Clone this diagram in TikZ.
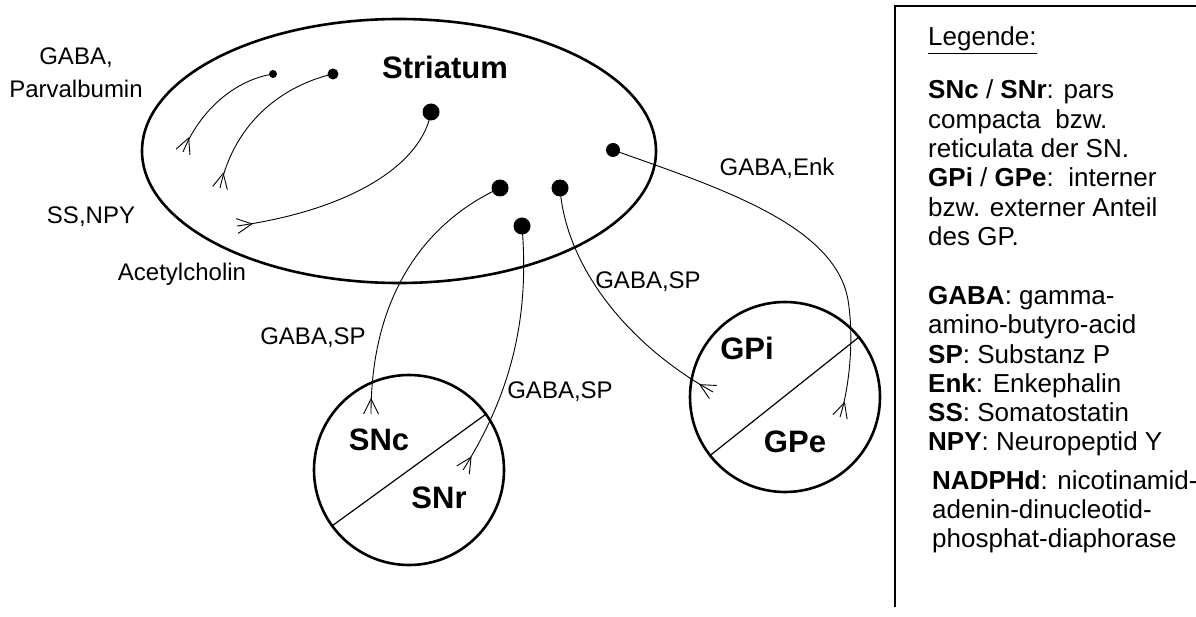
\documentclass[tikz,border=0pt]{standalone}
\usepackage{fontspec}
\setmainfont{Liberation Sans}
\usetikzlibrary{arrows.meta,shapes.geometric}
\pgfdeclarearrow{
  name = Fork,
  setup code = {
    \pgfarrowssettipend{0pt}
    \pgfarrowssetlineend{0pt}
    \pgfarrowssetbackend{-15pt}
    \pgfarrowssetvisualbackend{-15pt}
  },
  drawing code = {
    \pgfsetdash{}{0pt}
    \pgfsetmiterjoin
    \pgfpathmoveto{\pgfqpoint{0pt}{7.5pt}}
    \pgfpathlineto{\pgfqpoint{-15pt}{0pt}}
    \pgfpathlineto{\pgfqpoint{0pt}{-7.5pt}}
    \pgfusepathqstroke
  }
}
\newcommand\labfont{\fontsize{24}{28}\selectfont}
\newcommand\regfont{\fontsize{31}{36}\selectfont\bfseries}
\newcommand\legfont{\fontsize{26}{30}\selectfont}
\begin{document}
\begin{tikzpicture}[x=1pt,y=-1pt,
  outline/.style={draw, line width=2.6pt, inner sep=0pt},
  divider/.style={line width=1.2pt},
  dot/.style={circle, fill=black, inner sep=0pt},
  conn/.style={line width=0.9pt, -Fork},
  lab/.style={inner sep=0pt, font=\labfont},
  reg/.style={inner sep=0pt, font=\regfont},
  leg/.style={inner sep=0pt, anchor=base west, font=\legfont}]
\useasboundingbox (0,0) rectangle (1196,617);
\fill[white] (0,0) rectangle (1196,617);

% regions
\node[outline, ellipse, minimum width=514pt, minimum height=264pt] (str) at (399,151) {};
\node[outline, circle, minimum size=190pt] (sn) at (409,470) {};
\node[outline, circle, minimum size=190pt] (gp) at (785,397) {};
\draw[divider] (sn.216) -- (sn.36);
\draw[divider] (gp.218) -- (gp.39);

\node[reg] (tstr) at (445,67) {Striatum};
\node[reg] (tsnc) at (379,440) {SNc};
\node[reg] (tsnr) at (439,498) {SNr};
\node[reg] (tgpi) at (747,348) {GPi};
\node[reg] (tgpe) at (795,442) {GPe};

% cell bodies
\node[dot, minimum size=8pt]  (d1) at (273,74) {};
\node[dot, minimum size=11pt] (d2) at (333,74) {};
\node[dot, minimum size=17pt] (d3) at (431,112) {};
\node[dot, minimum size=14pt] (d4) at (613,150) {};
\node[dot, minimum size=17pt] (d5) at (500,188) {};
\node[dot, minimum size=17pt] (d6) at (560,188) {};
\node[dot, minimum size=17pt] (d7) at (522,226) {};

% free ends
\coordinate (e1) at (183,152);
\coordinate (e2) at (220,188);
\coordinate (e3) at (237,226);
\coordinate (e4) at (371,414);
\coordinate (e5) at (463,470);
\coordinate (e6) at (713,392);
\coordinate (m7) at (848,300);
\coordinate (e7) at (840,417);

% connectors
\draw[conn] (d1.center) .. controls (235,80) and (200,110) .. (e1);
\draw[conn] (d2.center) .. controls (285,85) and (235,120) .. (e2);
\draw[conn] (d3.center) .. controls (422,165) and (350,210) .. (e3);
\draw[conn] (d5.center) .. controls (430,220) and (371,290) .. (e4);
\draw[conn] (d7.center) .. controls (528,300) and (520,380) .. (e5);
\draw[conn] (d6.center) .. controls (565,260) and (620,340) .. (e6);
\draw[conn] (d4.center) .. controls (720,188) and (835,225) .. (m7)
                        .. controls (854,337) and (850,385) .. (e7);

% transmitter labels
\node[lab] (l1) at (76,58) {GABA,};
\node[lab] (l2) at (76,89) {Parvalbumin};
\node[lab] (l3) at (91,217) {SS,NPY};
\node[lab] (l4) at (182,274) {Acetylcholin};
\node[lab] (l5) at (777,168) {GABA,Enk};
\node[lab] (l6) at (648,282) {GABA,SP};
\node[lab] (l7) at (313,338) {GABA,SP};
\node[lab] (l8) at (560,392) {GABA,SP};

% legend
\draw[line width=1.5pt] (1196,6) -- (895,6) -- (895,607);
\node[leg] (g0)  at (928,46)  {\underline{Legende:}};
\node[leg] (g1)  at (928,99)  {\textbf{SNc} / \textbf{SNr}: pars};
\node[leg] (g2)  at (928,129) {compacta\ \ bzw.};
\node[leg] (g3)  at (928,158) {reticulata der SN.};
\node[leg] (g4)  at (928,187) {\textbf{GPi} / \textbf{GPe}:\ \ interner};
\node[leg] (g5)  at (928,217) {bzw. externer Anteil};
\node[leg] (g6)  at (928,246) {des GP.};
\node[leg] (g7)  at (928,305) {\textbf{GABA}: gamma-};
\node[leg] (g8)  at (928,334) {amino-butyro-acid};
\node[leg] (g9)  at (928,363) {\textbf{SP}: Substanz P};
\node[leg] (g10) at (928,392) {\textbf{Enk}: Enkephalin};
\node[leg] (g11) at (928,421) {\textbf{SS}: Somatostatin};
\node[leg] (g12) at (928,450) {\textbf{NPY}: Neuropeptid Y};
\node[leg] (g13) at (932,489) {\textbf{NADPHd}: nicotinamid-};
\node[leg] (g14) at (932,518) {adenin-dinucleotid-};
\node[leg] (g15) at (932,547) {phosphat-diaphorase};
\end{tikzpicture}
\end{document}
